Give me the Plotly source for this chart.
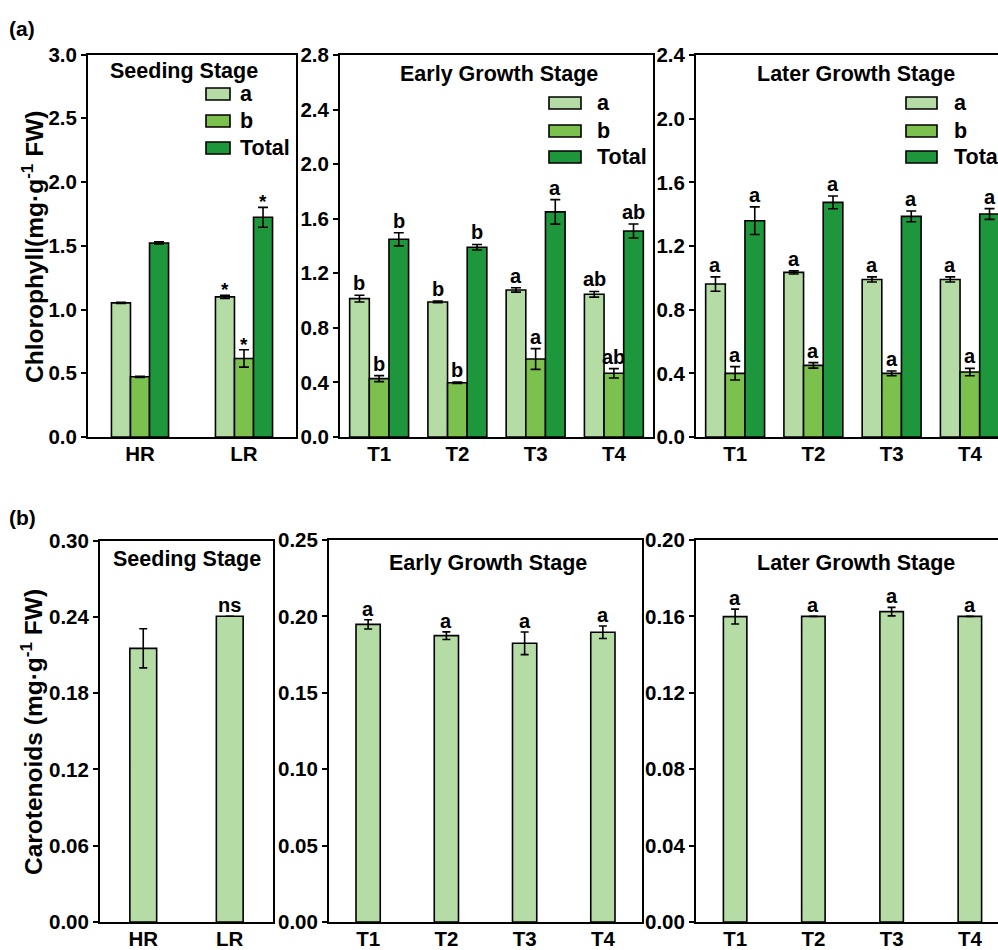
import plotly.graph_objects as go

W, H = 998, 950
FONT = "Liberation Sans, Arial, sans-serif"

C_A = "#B6DCA6"
C_B = "#7CC04E"
C_T = "#1E963C"

# ---------------- data ----------------
seed_cats = ["HR", "LR"]
growth_cats = ["T1", "T2", "T3", "T4"]
series_names = ["a", "b", "Total"]

seed_chl_a = [1.052, 1.099]
seed_chl_a_err = [0.004, 0.012]
seed_chl_b = [0.472, 0.616]
seed_chl_b_err = [0.005, 0.068]
seed_chl_t = [1.522, 1.723]
seed_chl_t_err = [0.008, 0.078]
seed_chl_a_sig = ["", "*"]
seed_chl_b_sig = ["", "*"]
seed_chl_t_sig = ["", "*"]

early_chl_a = [1.014, 0.990, 1.078, 1.046]
early_chl_a_err = [0.025, 0.006, 0.016, 0.021]
early_chl_b = [0.428, 0.398, 0.572, 0.467]
early_chl_b_err = [0.022, 0.005, 0.076, 0.034]
early_chl_t = [1.449, 1.391, 1.650, 1.510]
early_chl_t_err = [0.048, 0.020, 0.090, 0.051]
early_chl_a_sig = ["b", "b", "a", "ab"]
early_chl_b_sig = ["b", "b", "a", "ab"]
early_chl_t_sig = ["b", "b", "a", "ab"]

later_chl_a = [0.961, 1.034, 0.990, 0.990]
later_chl_a_err = [0.045, 0.010, 0.016, 0.016]
later_chl_b = [0.400, 0.450, 0.400, 0.408]
later_chl_b_err = [0.042, 0.017, 0.015, 0.023]
later_chl_t = [1.359, 1.474, 1.386, 1.401]
later_chl_t_err = [0.087, 0.040, 0.034, 0.034]
later_chl_a_sig = ["a", "a", "a", "a"]
later_chl_b_sig = ["a", "a", "a", "a"]
later_chl_t_sig = ["a", "a", "a", "a"]

seed_car = [0.2152, 0.2404]
seed_car_err = [0.0154, 0.0]
seed_car_sig = ["", "ns"]

early_car = [0.1948, 0.1874, 0.1824, 0.1896]
early_car_err = [0.0030, 0.0025, 0.0074, 0.0041]
early_car_sig = ["a", "a", "a", "a"]

later_car = [0.1599, 0.1600, 0.1625, 0.1600]
later_car_err = [0.0039, 0.0, 0.0022, 0.0]
later_car_sig = ["a", "a", "a", "a"]

stage_titles = ["Seeding Stage", "Early Growth Stage", "Later Growth Stage"]
chl_title = "Chlorophyll(mg·g<sup>-1</sup> FW)"
car_title = "Carotenoids (mg·g<sup>-1</sup> FW)"

# ---------------- layout helpers ----------------
def px(x):
    return x / W

def py(y):
    return 1 - y / H

fig = go.Figure()
annotations = []
shapes = []

def bold(size):
    return dict(family=FONT, size=size, color="black", weight="bold")

# panel geometry in pixels (left, right, top, bottom); right may overflow page
panels = {
    1: (88, 296, 54.5, 437),
    2: (340, 653, 55, 437),
    3: (696, 1009, 55, 437),
    4: (100, 273, 540.5, 922),
    5: (329, 642, 540, 922),
    6: (696, 1009, 540, 922),
}

def add_group(idx, cats, vals, errs, sigs, w, size_sig=20):
    xa = "x" if idx == 1 else f"x{idx}"
    ya = "y" if idx == 1 else f"y{idx}"
    colors = [C_A, C_B, C_T]
    for k in range(3):
        off = (k - 1.5) * w
        fig.add_trace(go.Bar(
            x=cats, y=vals[k], name=series_names[k], xaxis=xa, yaxis=ya,
            width=w, offset=off,
            marker=dict(color=colors[k], line=dict(color="black", width=1.6)),
            error_y=dict(type="data", array=errs[k], color="black", thickness=1.6, width=5),
            showlegend=False,
        ))
        for i, s in enumerate(sigs[k]):
            if not s:
                continue
            star = s == "*"
            annotations.append(dict(
                x=i + off + w / 2, y=vals[k][i] + errs[k][i], xref=xa, yref=ya,
                text=s, showarrow=False, xanchor="center", yanchor="bottom",
                yshift=-7 if star else -1,
                font=bold(19 if star else size_sig),
            ))

def add_single(idx, cats, vals, errs, sigs, w):
    xa = f"x{idx}"
    ya = f"y{idx}"
    fig.add_trace(go.Bar(
        x=cats, y=vals, name="Carotenoids", xaxis=xa, yaxis=ya, width=w,
        marker=dict(color=C_A, line=dict(color="black", width=1.6)),
        error_y=dict(type="data", array=errs, color="black", thickness=1.6, width=4),
        showlegend=False,
    ))
    for i, s in enumerate(sigs):
        if not s:
            continue
        annotations.append(dict(
            x=i, y=vals[i] + errs[i], xref=xa, yref=ya, text=s, showarrow=False,
            xanchor="center", yanchor="bottom", yshift=-2, font=bold(20),
        ))

add_group(1, seed_cats, [seed_chl_a, seed_chl_b, seed_chl_t],
          [seed_chl_a_err, seed_chl_b_err, seed_chl_t_err],
          [seed_chl_a_sig, seed_chl_b_sig, seed_chl_t_sig], 0.183)
add_group(2, growth_cats, [early_chl_a, early_chl_b, early_chl_t],
          [early_chl_a_err, early_chl_b_err, early_chl_t_err],
          [early_chl_a_sig, early_chl_b_sig, early_chl_t_sig], 0.251)
add_group(3, growth_cats, [later_chl_a, later_chl_b, later_chl_t],
          [later_chl_a_err, later_chl_b_err, later_chl_t_err],
          [later_chl_a_sig, later_chl_b_sig, later_chl_t_sig], 0.251)
add_single(4, seed_cats, seed_car, seed_car_err, seed_car_sig, 0.31)
add_single(5, growth_cats, early_car, early_car_err, early_car_sig, 0.31)
add_single(6, growth_cats, later_car, later_car_err, later_car_sig, 0.30)

y_ranges = {1: (3.0, 0.5, ".1f"), 2: (2.8, 0.4, ".1f"), 3: (2.4, 0.4, ".1f"),
            4: (0.30, 0.06, ".2f"), 5: (0.25, 0.05, ".2f"), 6: (0.20, 0.04, ".2f")}
ncat = {1: 2, 2: 4, 3: 4, 4: 2, 5: 4, 6: 4}

layout_axes = {}
for idx, (l, r, t, b) in panels.items():
    n = ncat[idx]
    vis_r = min(r, W)
    xmax = -0.5 + n * (vis_r - l) / (r - l)
    cut = r > W
    xname = "xaxis" if idx == 1 else f"xaxis{idx}"
    yname = "yaxis" if idx == 1 else f"yaxis{idx}"
    ymax, dt, fmt = y_ranges[idx]
    layout_axes[xname] = dict(
        domain=[px(l), px(vis_r)], anchor="y" if idx == 1 else f"y{idx}",
        type="category", range=[-0.5, xmax], showline=True, linewidth=2,
        linecolor="black", mirror=True, ticks="", showgrid=False, zeroline=False,
        tickfont=bold(20.5), ticklabelstandoff=-3, fixedrange=True,
    )
    layout_axes[yname] = dict(
        domain=[py(b), py(t)], anchor="x" if idx == 1 else f"x{idx}",
        range=[0, ymax], dtick=dt, tick0=0, tickformat=fmt, showline=True,
        linewidth=2, linecolor="black", mirror=not cut, ticks="outside",
        ticklen=5, tickwidth=2, tickcolor="black", showgrid=False, zeroline=False,
        tickfont=bold(20.5), fixedrange=True,
    )

# stage titles
title_pos = [(1, 184, 71), (2, 499, 74), (3, 855.5, 74),
             (4, 187, 559), (5, 487.5, 563), (6, 855.5, 563)]
for idx, cx, cy in title_pos:
    annotations.append(dict(
        x=px(cx), y=py(cy), xref="paper", yref="paper",
        text=stage_titles[(idx - 1) % 3], showarrow=False,
        xanchor="center", yanchor="middle", font=bold(21.5),
    ))

# legends (drawn as boxes + text)
legend_specs = [
    (206, 230, 238, [94, 121, 148]),
    (549, 581, 595, [103, 131, 157]),
    (906, 937, 952, [103, 131, 157]),
]
for x0, x1, tx, rows in legend_specs:
    for k, cy in enumerate(rows):
        shapes.append(dict(
            type="rect", xref="paper", yref="paper",
            x0=px(x0), x1=px(x1), y0=py(cy + 6), y1=py(cy - 6),
            fillcolor=[C_A, C_B, C_T][k], line=dict(color="black", width=1.6),
        ))
        annotations.append(dict(
            x=px(tx), y=py(cy), xref="paper", yref="paper", text=series_names[k],
            showarrow=False, xanchor="left", yanchor="middle", font=bold(21.5),
        ))

# y-axis titles
annotations.append(dict(x=px(32), y=py(247), xref="paper", yref="paper",
                        text=chl_title, textangle=-90, showarrow=False,
                        xanchor="center", yanchor="middle", font=bold(24.5)))
annotations.append(dict(x=px(31), y=py(732), xref="paper", yref="paper",
                        text=car_title, textangle=-90, showarrow=False,
                        xanchor="center", yanchor="middle", font=bold(24.5)))

# panel labels
annotations.append(dict(x=px(7), y=py(28), xref="paper", yref="paper", text="(a)",
                        showarrow=False, xanchor="left", yanchor="middle", font=bold(21)))
annotations.append(dict(x=px(7), y=py(517), xref="paper", yref="paper", text="(b)",
                        showarrow=False, xanchor="left", yanchor="middle", font=bold(21)))

fig.update_layout(
    width=W, height=H,
    margin=dict(l=0, r=0, t=0, b=0, autoexpand=False),
    paper_bgcolor="white", plot_bgcolor="white",
    barmode="overlay", showlegend=False,
    font=dict(family=FONT, color="black"),
    annotations=annotations, shapes=shapes,
    **layout_axes,
)

fig.write_html("out.html")
